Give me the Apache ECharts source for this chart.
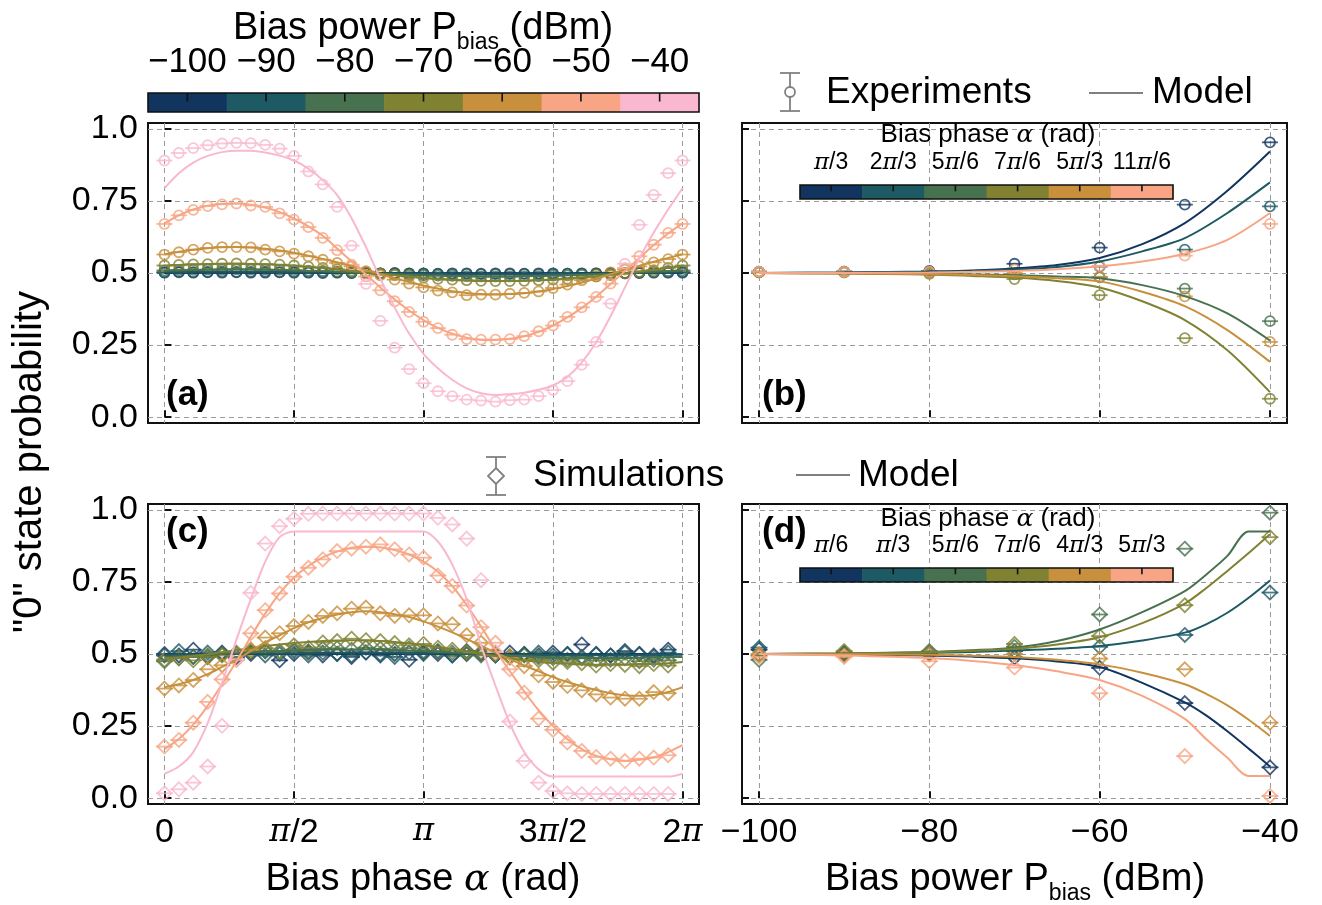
<!DOCTYPE html>
<html><head><meta charset="utf-8">
<script src="https://cdn.jsdelivr.net/npm/echarts@6/dist/echarts.min.js"></script>
<style>html,body{margin:0;padding:0;background:#fff}#c{width:1322px;height:905px}</style>
</head><body><div id="c"></div>
<script>
// ================= DATA =================
const powerLevels = [-100, -90, -80, -70, -60, -50, -40];
const powerTickLabels = ['−100', '−90', '−80', '−70', '−60', '−50', '−40'];
const phaseTickLabels = ['0', 'π/2', 'π', '3π/2', '2π'];
const powerAxisTicks = [-100, -80, -60, -40];
const powerAxisLabels = ['−100', '−80', '−60', '−40'];
const probTicks = [0, 0.25, 0.5, 0.75, 1.0];
const probTickLabels = ['0.0', '0.25', '0.5', '0.75', '1.0'];
const phaseLabelsB = ['π/3', '2π/3', '5π/6', '7π/6', '5π/3', '11π/6'];
const phaseLabelsD = ['π/6', 'π/3', '5π/6', '7π/6', '4π/3', '5π/3'];

// bias phase in degrees (measured / simulated grid)
const phaseDeg = [0,10,20,30,40,50,60,70,80,90,100,110,120,130,140,150,160,170,180,190,200,210,220,230,240,250,260,270,280,290,300,310,320,330,340,350,360];
const phaseDegSim = [0,10,20,30,40,50,60,70,80,90,100,110,120,130,140,150,160,170,180,190,200,210,220,230,240,250,260,270,280,290,300,310,320,330,340,350];

// (a) experiments, one array per bias power
const aExp_m100 = [0.501,0.502,0.501,0.502,0.501,0.502,0.501,0.501,0.502,0.501,0.501,0.500,0.501,0.500,0.500,0.499,0.500,0.499,0.499,0.498,0.499,0.499,0.498,0.499,0.499,0.498,0.499,0.499,0.498,0.499,0.499,0.500,0.500,0.500,0.501,0.501,0.501];
const aExp_m90 = [0.503,0.504,0.503,0.504,0.505,0.504,0.504,0.505,0.503,0.503,0.503,0.502,0.502,0.501,0.500,0.499,0.499,0.498,0.497,0.497,0.496,0.497,0.496,0.496,0.496,0.497,0.496,0.497,0.498,0.498,0.499,0.499,0.500,0.501,0.502,0.502,0.503];
const aExp_m80 = [0.509,0.510,0.511,0.512,0.512,0.513,0.512,0.512,0.511,0.510,0.508,0.507,0.505,0.503,0.501,0.498,0.496,0.494,0.492,0.491,0.490,0.489,0.488,0.488,0.488,0.489,0.489,0.491,0.492,0.494,0.496,0.498,0.500,0.502,0.504,0.507,0.509];
const aExp_m70 = [0.526,0.528,0.530,0.531,0.532,0.533,0.532,0.531,0.529,0.526,0.522,0.518,0.513,0.508,0.503,0.498,0.493,0.488,0.484,0.480,0.477,0.475,0.473,0.472,0.472,0.473,0.475,0.477,0.480,0.484,0.488,0.493,0.498,0.504,0.510,0.518,0.526];
const aExp_m60 = [0.564,0.572,0.581,0.587,0.590,0.590,0.589,0.581,0.575,0.567,0.558,0.546,0.535,0.523,0.506,0.492,0.477,0.463,0.450,0.439,0.433,0.423,0.425,0.425,0.428,0.431,0.436,0.448,0.460,0.475,0.488,0.502,0.512,0.523,0.537,0.548,0.564];
const aExp_m50 = [0.670,0.700,0.719,0.732,0.738,0.741,0.734,0.729,0.707,0.685,0.659,0.622,0.579,0.529,0.488,0.440,0.402,0.365,0.331,0.309,0.286,0.271,0.269,0.269,0.271,0.281,0.298,0.318,0.348,0.381,0.417,0.463,0.517,0.558,0.598,0.639,0.670];
const aExp_m40 = [0.890,0.916,0.933,0.943,0.949,0.951,0.950,0.944,0.931,0.906,0.852,0.807,0.729,0.595,0.462,0.334,0.241,0.167,0.118,0.090,0.073,0.061,0.058,0.054,0.059,0.061,0.073,0.094,0.125,0.182,0.261,0.394,0.532,0.667,0.771,0.846,0.890];

// (a) model
const aMod_m100 = [0.501,0.501,0.501,0.501,0.501,0.501,0.501,0.501,0.501,0.501,0.501,0.500,0.500,0.500,0.500,0.500,0.500,0.499,0.499,0.499,0.499,0.499,0.499,0.499,0.499,0.499,0.499,0.499,0.499,0.500,0.500,0.500,0.500,0.500,0.500,0.501,0.501];
const aMod_m90 = [0.503,0.503,0.504,0.504,0.504,0.504,0.504,0.504,0.503,0.503,0.502,0.502,0.501,0.501,0.500,0.499,0.499,0.498,0.497,0.497,0.496,0.496,0.496,0.496,0.496,0.496,0.496,0.497,0.497,0.498,0.498,0.499,0.500,0.501,0.501,0.502,0.503];
const aMod_m80 = [0.508,0.509,0.510,0.511,0.512,0.512,0.512,0.511,0.510,0.509,0.507,0.506,0.504,0.502,0.500,0.498,0.496,0.494,0.492,0.491,0.490,0.489,0.488,0.488,0.488,0.489,0.490,0.491,0.492,0.494,0.496,0.498,0.500,0.502,0.504,0.506,0.508];
const aMod_m70 = [0.525,0.528,0.530,0.531,0.532,0.532,0.531,0.530,0.528,0.525,0.521,0.517,0.512,0.507,0.502,0.497,0.492,0.487,0.483,0.479,0.476,0.474,0.472,0.472,0.472,0.473,0.475,0.477,0.481,0.485,0.489,0.494,0.499,0.505,0.511,0.518,0.525];
const aMod_m60 = [0.565,0.574,0.581,0.586,0.589,0.590,0.588,0.584,0.578,0.570,0.560,0.549,0.537,0.524,0.510,0.496,0.482,0.469,0.457,0.446,0.437,0.431,0.427,0.426,0.427,0.430,0.436,0.444,0.455,0.467,0.481,0.496,0.511,0.525,0.539,0.552,0.565];
const aMod_m50 = [0.672,0.700,0.720,0.733,0.740,0.741,0.737,0.727,0.711,0.689,0.662,0.629,0.585,0.540,0.495,0.450,0.408,0.370,0.337,0.310,0.290,0.276,0.269,0.268,0.272,0.281,0.296,0.318,0.346,0.379,0.418,0.462,0.507,0.552,0.597,0.637,0.672];
const aMod_m40 = [0.794,0.846,0.883,0.906,0.919,0.924,0.924,0.918,0.907,0.890,0.862,0.822,0.770,0.690,0.590,0.480,0.380,0.290,0.220,0.170,0.130,0.100,0.083,0.077,0.080,0.085,0.095,0.110,0.140,0.190,0.260,0.350,0.450,0.550,0.640,0.720,0.794];

// (b) experiments vs bias power, one array per bias phase
const bExp_p1 = [0.505,0.505,0.507,0.532,0.588,0.737,0.953];
const bExp_p2 = [0.503,0.505,0.505,0.515,0.522,0.581,0.731];
const bExp_p3 = [0.503,0.503,0.500,0.495,0.485,0.446,0.333];
const bExp_p4 = [0.502,0.502,0.497,0.479,0.423,0.274,0.064];
const bExp_p5 = [0.503,0.502,0.500,0.500,0.487,0.419,0.261];
const bExp_p6 = [0.505,0.505,0.505,0.512,0.525,0.560,0.670];
// (b) model
const bModPower = [-100,-90,-80,-75,-70,-65,-60,-55,-50,-45,-40];
const bMod_p1 = [0.500,0.502,0.505,0.509,0.516,0.528,0.552,0.600,0.673,0.785,0.921];
const bMod_p2 = [0.500,0.501,0.504,0.507,0.512,0.521,0.540,0.575,0.621,0.708,0.814];
const bMod_p3 = [0.500,0.499,0.497,0.495,0.492,0.488,0.482,0.458,0.420,0.360,0.266];
const bMod_p4 = [0.500,0.498,0.495,0.490,0.484,0.472,0.450,0.402,0.337,0.232,0.087];
const bMod_p5 = [0.500,0.499,0.496,0.493,0.489,0.482,0.471,0.435,0.385,0.302,0.192];
const bMod_p6 = [0.500,0.500,0.502,0.504,0.507,0.513,0.523,0.540,0.567,0.615,0.708];

// (c) simulations
const cSim_m100 = [0.500,0.495,0.515,0.490,0.505,0.485,0.500,0.510,0.478,0.500,0.505,0.495,0.500,0.490,0.505,0.495,0.500,0.480,0.505,0.500,0.495,0.510,0.500,0.495,0.505,0.500,0.495,0.505,0.500,0.533,0.500,0.495,0.510,0.500,0.495,0.515];
const cSim_m90 = [0.495,0.510,0.490,0.505,0.500,0.490,0.505,0.495,0.500,0.510,0.495,0.505,0.500,0.495,0.505,0.500,0.490,0.505,0.500,0.510,0.495,0.500,0.505,0.495,0.490,0.500,0.505,0.495,0.500,0.490,0.500,0.495,0.505,0.500,0.490,0.505];
const cSim_m80 = [0.475,0.485,0.490,0.495,0.500,0.500,0.505,0.510,0.508,0.515,0.510,0.518,0.520,0.515,0.522,0.518,0.512,0.520,0.510,0.508,0.505,0.500,0.495,0.500,0.490,0.495,0.488,0.485,0.480,0.485,0.478,0.480,0.485,0.475,0.480,0.478];
const cSim_m70 = [0.480,0.485,0.478,0.490,0.495,0.505,0.512,0.520,0.510,0.530,0.522,0.540,0.545,0.553,0.548,0.545,0.538,0.530,0.535,0.522,0.515,0.508,0.505,0.498,0.492,0.480,0.478,0.470,0.472,0.468,0.460,0.465,0.462,0.458,0.465,0.460];
const cSim_m60 = [0.380,0.391,0.410,0.447,0.461,0.480,0.516,0.557,0.572,0.597,0.611,0.632,0.641,0.657,0.661,0.641,0.632,0.634,0.634,0.606,0.603,0.565,0.539,0.505,0.487,0.458,0.426,0.403,0.389,0.374,0.360,0.349,0.345,0.345,0.368,0.364];
const cSim_m50 = [0.179,0.202,0.262,0.334,0.412,0.480,0.572,0.652,0.710,0.768,0.799,0.828,0.857,0.865,0.872,0.880,0.863,0.845,0.834,0.772,0.736,0.668,0.593,0.539,0.447,0.366,0.276,0.237,0.193,0.164,0.143,0.137,0.129,0.137,0.141,0.149];
const cSim_m40 = [0.017,0.031,0.054,0.110,0.251,0.482,0.712,0.883,0.943,0.969,0.986,0.987,0.987,0.987,0.987,0.987,0.987,0.987,0.987,0.972,0.949,0.900,0.756,0.507,0.266,0.129,0.054,0.025,0.017,0.015,0.015,0.015,0.015,0.015,0.015,0.015];
// (c) model
const cMod_m100 = [0.499,0.499,0.500,0.500,0.500,0.500,0.500,0.501,0.501,0.501,0.501,0.501,0.501,0.501,0.501,0.501,0.501,0.501,0.501,0.500,0.500,0.500,0.500,0.500,0.500,0.499,0.499,0.499,0.499,0.499,0.499,0.499,0.499,0.499,0.499,0.499,0.499];
const cMod_m90 = [0.497,0.498,0.498,0.499,0.500,0.500,0.501,0.502,0.502,0.503,0.503,0.504,0.504,0.504,0.504,0.504,0.504,0.503,0.503,0.502,0.501,0.500,0.500,0.499,0.498,0.497,0.497,0.496,0.496,0.496,0.496,0.496,0.496,0.496,0.497,0.497,0.497];
const cMod_m80 = [0.490,0.492,0.495,0.498,0.500,0.503,0.506,0.508,0.510,0.512,0.514,0.515,0.516,0.516,0.516,0.515,0.514,0.512,0.510,0.508,0.505,0.502,0.500,0.497,0.494,0.492,0.490,0.488,0.487,0.486,0.486,0.486,0.486,0.487,0.488,0.489,0.490];
const cMod_m70 = [0.485,0.488,0.493,0.499,0.506,0.513,0.520,0.527,0.533,0.538,0.542,0.545,0.547,0.548,0.547,0.545,0.542,0.537,0.531,0.524,0.516,0.508,0.500,0.492,0.485,0.478,0.473,0.469,0.466,0.464,0.463,0.463,0.464,0.465,0.466,0.468,0.472];
const cMod_m60 = [0.385,0.395,0.410,0.430,0.455,0.480,0.510,0.540,0.565,0.590,0.610,0.625,0.637,0.645,0.648,0.645,0.638,0.628,0.613,0.595,0.575,0.552,0.528,0.505,0.482,0.460,0.440,0.420,0.403,0.388,0.375,0.364,0.357,0.355,0.358,0.368,0.385];
const cMod_m50 = [0.170,0.205,0.255,0.320,0.395,0.475,0.560,0.640,0.710,0.765,0.805,0.835,0.855,0.868,0.872,0.870,0.860,0.845,0.820,0.785,0.735,0.670,0.595,0.515,0.440,0.370,0.305,0.250,0.205,0.170,0.147,0.135,0.130,0.133,0.142,0.160,0.184];
const cMod_m40 = [0.085,0.110,0.160,0.260,0.400,0.550,0.690,0.820,0.905,0.925,0.925,0.925,0.925,0.925,0.925,0.925,0.925,0.925,0.925,0.890,0.810,0.690,0.530,0.390,0.260,0.160,0.100,0.075,0.075,0.075,0.075,0.075,0.075,0.075,0.075,0.075,0.085];

// (d) simulations vs bias power, one array per bias phase
const dSim_p1 = [0.515,0.500,0.502,0.488,0.452,0.330,0.107];
const dSim_p2 = [0.522,0.505,0.505,0.510,0.525,0.566,0.713];
const dSim_p3 = [0.480,0.502,0.510,0.525,0.637,0.865,0.990];
const dSim_p4 = [0.495,0.510,0.505,0.535,0.562,0.669,0.905];
const dSim_p5 = [0.500,0.495,0.498,0.500,0.484,0.447,0.262];
const dSim_p6 = [0.490,0.490,0.475,0.453,0.364,0.146,0.008];
// (d) model
const dModPower = [-100,-90,-80,-75,-70,-65,-60,-55,-50,-47.5,-45,-42.5,-40];
const dMod_p1 = [0.500,0.498,0.495,0.491,0.485,0.474,0.455,0.400,0.332,0.287,0.232,0.172,0.110];
const dMod_p2 = [0.500,0.501,0.504,0.507,0.512,0.518,0.528,0.547,0.574,0.603,0.643,0.695,0.755];
const dMod_p3 = [0.500,0.502,0.507,0.513,0.522,0.545,0.585,0.645,0.718,0.775,0.840,0.925,0.925];
const dMod_p4 = [0.500,0.502,0.506,0.511,0.518,0.533,0.558,0.607,0.675,0.728,0.788,0.850,0.915];
const dMod_p5 = [0.500,0.499,0.497,0.494,0.490,0.480,0.464,0.435,0.395,0.362,0.322,0.272,0.216];
const dMod_p6 = [0.500,0.495,0.486,0.476,0.462,0.440,0.410,0.355,0.275,0.205,0.140,0.077,0.077];

// ================= STYLE =================
const palette = ['#12355f', '#1d5a64', '#48714f', '#808232', '#c8903c', '#f7a585', '#f9b8cf'];
const FONT = '"Liberation Sans", Arial, sans-serif';
const MATH = '"DejaVu Serif", serif';
const GRAY = '#808080';

const G = {
  a: {left: 148, top: 123, width: 551, height: 300},
  b: {left: 742, top: 123, width: 545, height: 300},
  c: {left: 148, top: 504, width: 551, height: 300},
  d: {left: 742, top: 504, width: 545, height: 300}
};
const TICKFS = 34;

const PI = Math.PI;
const phaseTickValues = phaseTickLabels.map((_, i) => i * PI / 2);
const toRad = d => d * PI / 180;
const piRich = s => s.replace(/π/g, '{i|π}');

function gridCfg(g) {
  return Object.assign({show: true, borderColor: '#111', borderWidth: 2, backgroundColor: 'rgba(0,0,0,0)', containLabel: false}, g);
}
const split = {show: true, lineStyle: {color: '#9a9a9a', width: 1, type: [5, 4]}};
const tickStyle = {show: true, inside: true, length: 7, lineStyle: {color: '#111', width: 2}};

function phaseX(gi, showLabel) {
  return {
    type: 'value', gridIndex: gi, min: -0.2, max: 2 * PI + 0.2,
    axisLine: {show: false},
    axisTick: Object.assign({customValues: phaseTickValues}, tickStyle),
    axisLabel: {
      show: showLabel, customValues: phaseTickValues, margin: 12,
      color: '#000', fontSize: TICKFS, fontFamily: FONT,
      formatter: v => piRich(phaseTickLabels[Math.round(v / (PI / 2))]),
      rich: {i: {fontFamily: MATH, fontStyle: 'italic', fontSize: TICKFS - 2, color: '#000'}}
    },
    splitLine: split
  };
}
function powerX(gi, showLabel) {
  return {
    type: 'value', gridIndex: gi, min: -102, max: -38,
    axisLine: {show: false},
    axisTick: Object.assign({customValues: powerAxisTicks}, tickStyle),
    axisLabel: {show: showLabel, customValues: powerAxisTicks, margin: 12, color: '#000', fontSize: TICKFS, fontFamily: FONT,
      formatter: v => powerAxisLabels[powerAxisTicks.indexOf(Math.round(v))]},
    splitLine: split
  };
}
function probY(gi, showLabel) {
  return {
    type: 'value', gridIndex: gi, min: -0.02, max: 1.02,
    axisLine: {show: false},
    axisTick: Object.assign({customValues: probTicks}, tickStyle),
    axisLabel: {show: showLabel, customValues: probTicks, margin: 10, color: '#000', fontSize: TICKFS, fontFamily: FONT,
      formatter: v => probTickLabels[probTicks.indexOf(Math.round(v * 100) / 100)]},
    splitLine: split
  };
}

const series = [];
function addLine(gi, xs, ys, color, width) {
  series.push({type: 'line', xAxisIndex: gi, yAxisIndex: gi, data: ys.map((y, i) => [xs[i], y]),
    showSymbol: false, smooth: 0.3, lineStyle: {color, width: width || 2}, silent: true, animation: false});
}
function addMarkers(gi, xs, ys, color, sym, size, capW) {
  const pts = ys.map((y, i) => [xs[i], y]);
  series.push({type: 'scatter', xAxisIndex: gi, yAxisIndex: gi, data: pts, symbol: sym, symbolSize: size,
    itemStyle: {color: 'rgba(0,0,0,0)', borderColor: color, borderWidth: 1.8}, silent: true, animation: false});
  series.push({type: 'scatter', xAxisIndex: gi, yAxisIndex: gi, data: pts, symbol: 'rect', symbolSize: [capW, 1.8],
    itemStyle: {color}, silent: true, animation: false});
}

const phaseRad = phaseDeg.map(toRad);
const phaseRadSim = phaseDegSim.map(toRad);

// (a)
const aExp = [aExp_m100, aExp_m90, aExp_m80, aExp_m70, aExp_m60, aExp_m50, aExp_m40];
const aMod = [aMod_m100, aMod_m90, aMod_m80, aMod_m70, aMod_m60, aMod_m50, aMod_m40];
aExp.forEach((arr, i) => {
  addLine(0, phaseRad, aMod[i], palette[i], 2);
  addMarkers(0, phaseRad, arr, palette[i], 'circle', 10, 16);
});
// (b)
const bExp = [bExp_p1, bExp_p2, bExp_p3, bExp_p4, bExp_p5, bExp_p6];
const bMod = [bMod_p1, bMod_p2, bMod_p3, bMod_p4, bMod_p5, bMod_p6];
bExp.forEach((arr, i) => {
  addLine(1, bModPower, bMod[i], palette[i], 2);
  addMarkers(1, powerLevels, arr, palette[i], 'circle', 10, 16);
});
// (c)
const cSim = [cSim_m100, cSim_m90, cSim_m80, cSim_m70, cSim_m60, cSim_m50, cSim_m40];
const cMod = [cMod_m100, cMod_m90, cMod_m80, cMod_m70, cMod_m60, cMod_m50, cMod_m40];
cSim.forEach((arr, i) => {
  addLine(2, phaseRad, cMod[i], palette[i], 2);
  addMarkers(2, phaseRadSim, arr, palette[i], 'diamond', [14, 14], 17);
});
// (d)
const dSim = [dSim_p1, dSim_p2, dSim_p3, dSim_p4, dSim_p5, dSim_p6];
const dMod = [dMod_p1, dMod_p2, dMod_p3, dMod_p4, dMod_p5, dMod_p6];
dSim.forEach((arr, i) => {
  addLine(3, dModPower, dMod[i], palette[i], 2);
  addMarkers(3, powerLevels, arr, palette[i], 'diamond', [14, 14], 17);
});

// ================= GRAPHICS (colorbars, legends, titles) =================
const graphics = [];
function txt(x, y, text, size, opts) {
  opts = opts || {};
  graphics.push({type: 'text', silent: true, z: 100, rotation: opts.rotation || 0, x: x, y: y,
    style: Object.assign({text, fill: '#000', fontSize: size, fontFamily: FONT,
      align: opts.align || 'center', verticalAlign: opts.va || 'middle',
      textAlign: opts.align || 'center', textVerticalAlign: opts.va || 'middle',
      fontWeight: opts.weight || 'normal'}, opts.style || {})});
}
function colorbar(x, y, w, h, colors, labels, labelSize, labelY, rich) {
  const n = colors.length, sw = w / n;
  colors.forEach((c, i) => graphics.push({type: 'rect', silent: true, z: 90,
    shape: {x: x + i * sw, y: y, width: sw + 0.6, height: h}, style: {fill: c}}));
  graphics.push({type: 'rect', silent: true, z: 91, shape: {x, y, width: w, height: h},
    style: {fill: 'none', stroke: '#111', lineWidth: 1.6}});
  labels.forEach((lab, i) => {
    const cx = x + (i + 0.5) * sw;
    graphics.push({type: 'line', silent: true, z: 92, shape: {x1: cx, y1: y, x2: cx, y2: y + h * 0.45},
      style: {stroke: '#111', lineWidth: 1.6}});
    txt(cx, labelY, rich ? piRich(lab) : lab, labelSize, {style: rich ? {rich: {i: {fontFamily: MATH, fontStyle: 'italic', fontSize: labelSize}}} : {}});
  });
}
// top colorbar (bias power)
colorbar(148, 93, 551, 19, palette, powerTickLabels, 35, 62, false);
const subRich = size => ({s: {fontSize: Math.round(size * 0.6), fontFamily: FONT, verticalAlign: 'bottom', lineHeight: 24},
  n: {fontSize: size, fontFamily: FONT, lineHeight: 50}, m: {fontSize: size, fontFamily: MATH, fontStyle: 'italic', lineHeight: 50}});
txt(423, 29, '{n|Bias power P}{s|bias}{n| (dBm)}', 38, {style: {rich: subRich(38)}});
// inner colorbars
const innerColors = palette.slice(0, 6);
const innerTitleRich = {n: {fontSize: 26, fontFamily: FONT}, m: {fontSize: 25, fontFamily: MATH, fontStyle: 'italic'}};
colorbar(800, 185, 373, 14, innerColors, phaseLabelsB, 23, 163, true);
txt(988, 135, '{n|Bias phase }{m|α}{n| (rad)}', 26, {style: {rich: innerTitleRich}});
colorbar(800, 568, 373, 14, innerColors, phaseLabelsD, 23, 546, true);
txt(988, 519, '{n|Bias phase }{m|α}{n| (rad)}', 26, {style: {rich: innerTitleRich}});

// legend (experiments / model)
function errIcon(cx, cy, shape) {
  graphics.push({type: 'line', silent: true, z: 95, shape: {x1: cx, y1: cy - 19, x2: cx, y2: cy + 19}, style: {stroke: GRAY, lineWidth: 1.8}});
  graphics.push({type: 'line', silent: true, z: 95, shape: {x1: cx - 10, y1: cy - 19, x2: cx + 10, y2: cy - 19}, style: {stroke: GRAY, lineWidth: 1.8}});
  graphics.push({type: 'line', silent: true, z: 95, shape: {x1: cx - 10, y1: cy + 19, x2: cx + 10, y2: cy + 19}, style: {stroke: GRAY, lineWidth: 1.8}});
  if (shape === 'circle') {
    graphics.push({type: 'circle', silent: true, z: 96, shape: {cx, cy, r: 5}, style: {fill: '#fff', stroke: GRAY, lineWidth: 1.8}});
  } else {
    graphics.push({type: 'polygon', silent: true, z: 96, shape: {points: [[cx, cy - 8], [cx + 8, cy], [cx, cy + 8], [cx - 8, cy]]}, style: {fill: '#fff', stroke: GRAY, lineWidth: 1.8}});
  }
}
errIcon(790, 92, 'circle');
txt(826, 93, 'Experiments', 37, {align: 'left'});
graphics.push({type: 'line', silent: true, z: 95, shape: {x1: 1089, y1: 93, x2: 1143, y2: 93}, style: {stroke: GRAY, lineWidth: 2}});
txt(1152, 93, 'Model', 37, {align: 'left'});
errIcon(496, 476, 'diamond');
txt(533, 476, 'Simulations', 37, {align: 'left'});
graphics.push({type: 'line', silent: true, z: 95, shape: {x1: 796, y1: 475, x2: 850, y2: 475}, style: {stroke: GRAY, lineWidth: 2}});
txt(858, 476, 'Model', 37, {align: 'left'});

// panel labels
txt(166, 395, '(a)', 35, {align: 'left', weight: 'bold'});
txt(762, 395, '(b)', 35, {align: 'left', weight: 'bold'});
txt(166, 532, '(c)', 35, {align: 'left', weight: 'bold'});
txt(762, 532, '(d)', 35, {align: 'left', weight: 'bold'});

// axis titles
txt(423, 880, '{n|Bias phase }{m|α}{n| (rad)}', 38, {style: {rich: subRich(38)}});
txt(1015, 880, '{n|Bias power P}{s|bias}{n| (dBm)}', 38, {style: {rich: subRich(38)}});
txt(30, 462, '"0" state probability', 40, {rotation: Math.PI / 2});

const option = {
  animation: false,
  backgroundColor: '#fff',
  textStyle: {fontFamily: FONT},
  grid: [gridCfg(G.a), gridCfg(G.b), gridCfg(G.c), gridCfg(G.d)],
  xAxis: [phaseX(0, false), powerX(1, false), phaseX(2, true), powerX(3, true)],
  yAxis: [probY(0, true), probY(1, false), probY(2, true), probY(3, false)],
  series,
  graphic: {elements: graphics}
};
const chart = echarts.init(document.getElementById('c'));
chart.setOption(option);
</script>
</body></html>
